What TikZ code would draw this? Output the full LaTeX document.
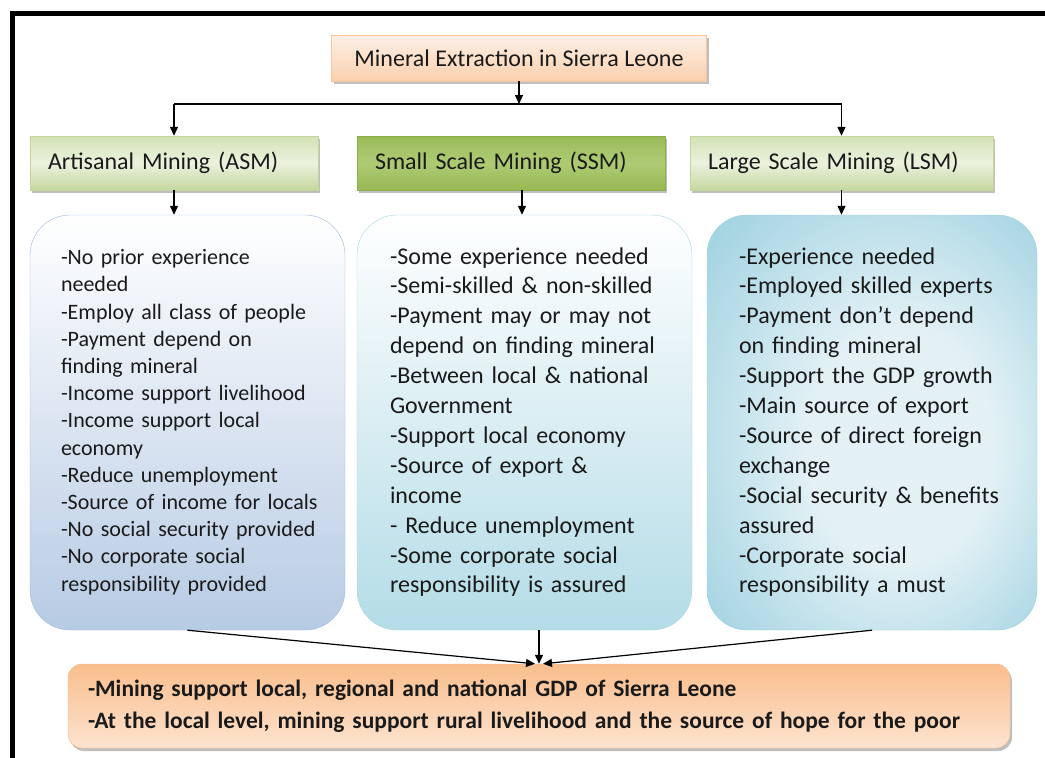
\documentclass[tikz,border=0pt]{standalone}
\usepackage{fontspec}
\setmainfont{Carlito}
\usetikzlibrary{arrows.meta,shadows,calc}
\definecolor{titletop}{HTML}{FDF0E6}
\definecolor{titlebot}{HTML}{FAD0AE}
\definecolor{titledraw}{HTML}{F8C49A}
\definecolor{lgtop}{HTML}{D3E2B6}
\definecolor{lgmid}{HTML}{EBF2DE}
\definecolor{lgbot}{HTML}{C4D79E}
\definecolor{lgdraw}{HTML}{C3D69B}
\definecolor{dgtop}{HTML}{9BBB59}
\definecolor{dgmid}{HTML}{AECB74}
\definecolor{dgbot}{HTML}{97B853}
\definecolor{dgdraw}{HTML}{8AAE48}
\definecolor{asmbot}{HTML}{B7CBE4}
\definecolor{asmdraw}{HTML}{9DB7D9}
\definecolor{ssmbot}{HTML}{B4DCE7}
\definecolor{ssmdraw}{HTML}{A5D6E3}
\definecolor{lsmin}{HTML}{E3F1F6}
\definecolor{lsmout}{HTML}{93CCDC}
\definecolor{lsmdraw}{HTML}{9BD0DF}
\definecolor{bottop}{HTML}{F9BE8C}
\definecolor{botbot}{HTML}{FDE3CF}
\definecolor{botdraw}{HTML}{F5B98A}
\definecolor{txt}{HTML}{1A1A1A}
\pgfdeclareradialshading{lsmshade}{\pgfpoint{6bp}{-4bp}}{color(0bp)=(lsmin); color(14bp)=(lsmin); color(34bp)=(lsmout!75!lsmin); color(46bp)=(lsmout); color(50bp)=(lsmout)}
\newcommand{\linelist}[1]{\begin{tabular}{@{}l@{}}#1\end{tabular}}
\begin{document}
\begin{tikzpicture}[x=1pt,y=-1pt,
  shad/.style={drop shadow={shadow xshift=2pt,shadow yshift=-3pt,fill=black,opacity=.25}},
  titlebox/.style={draw=titledraw, top color=titletop, bottom color=titlebot,
    minimum width=375pt, minimum height=46pt, font=\fontsize{24}{29}\selectfont, text=txt, shad},
  hdrbase/.style={minimum height=54pt, inner xsep=18pt, align=left,
    font=\fontsize{24}{29}\selectfont, text=txt, shad},
  hdrlight/.style={hdrbase, draw=lgdraw, top color=lgtop, bottom color=lgbot, middle color=lgmid},
  hdrdark/.style={hdrbase, draw=dgdraw, top color=dgtop, bottom color=dgbot, middle color=dgmid},
  bodybase/.style={rounded corners=40pt, minimum height=415pt, align=left, text=txt,
    font=\fontsize{24}{29.9}\selectfont},
  asmbody/.style={bodybase, draw=asmdraw, top color=white, bottom color=asmbot,
    minimum width=315pt, inner xsep=31pt, text width=253pt, font=\fontsize{22}{27.2}\selectfont},
  ssmbody/.style={bodybase, draw=ssmdraw, top color=white, bottom color=ssmbot,
    minimum width=335pt, inner xsep=33pt, text width=269pt},
  lsmbody/.style={bodybase, draw=lsmdraw, shading=lsmshade,
    minimum width=330pt, inner xsep=32pt, text width=266pt},
  botbox/.style={draw=botdraw, top color=bottop, bottom color=botbot, rounded corners=14pt,
    minimum width=942pt, minimum height=84pt, inner xsep=20pt, text width=902pt, align=left,
    font=\bfseries\fontsize{23.5}{32}\selectfont, text=txt, shad},
  arr/.style={-{Triangle[length=9pt,width=8pt]}, line width=1.2pt},
  conn/.style={line width=1.2pt}
]
\useasboundingbox (0,0) rectangle (1045,758);
% frame
\draw[line width=5pt] (12.5,760) -- (12.5,13) -- (1046,13);

\node[titlebox] (title) at (519,58) {Mineral Extraction in Sierra Leone};

\node[hdrlight, minimum width=288pt, text width=252pt] (asmh) at (174,163) {Artisanal Mining (ASM)};
\node[hdrdark, minimum width=308pt, text width=272pt] (ssmh) at (511,163) {Small Scale Mining (SSM)};
\node[hdrlight, minimum width=303pt, text width=267pt] (lsmh) at (841.5,163) {Large Scale Mining (LSM)};

\node[asmbody] (asmb) at (187.5,422.5) {\linelist{-No prior experience\\ needed\\ -Employ all class of people\\ -Payment depend on\\ finding mineral\\ -Income support livelihood\\ -Income support local\\ economy\\ -Reduce unemployment\\ -Source of income for locals\\ -No social security provided\\ -No corporate social\\ responsibility provided}};
\node[ssmbody] (ssmb) at (524.5,422.5) {\linelist{-Some experience needed\\ -Semi-skilled \& non-skilled\\ -Payment may or may not\\ depend on finding mineral\\ -Between local \& national\\ Government\\ -Support local economy\\ -Source of export \&\\ income\\ - Reduce unemployment\\ -Some corporate social\\ responsibility is assured}};
\node[lsmbody] (lsmb) at (872,422.5) {\linelist{-Experience needed\\ -Employed skilled experts\\ -Payment don’t depend\\ on finding mineral\\ -Support the GDP growth\\ -Main source of export\\ -Source of direct foreign\\ exchange\\ -Social security \& benefits\\ assured\\ -Corporate social\\ responsibility a must}};

\node[botbox] (bot) at (539,706) {\linelist{-Mining support local, regional and national GDP of Sierra Leone\\ -At the local level, mining support rural livelihood and the source of hope for the poor}};

% connectors
\coordinate (junc) at (519,104);
\draw[arr] (title.south) -- (junc);
\draw[conn] (asmh.north |- junc) -- (lsmh.north |- junc);
\draw[arr] (asmh.north |- junc) -- (asmh.north);
\draw[arr] (lsmh.north |- junc) -- (lsmh.north);

\draw[arr] (asmh.south) -- (asmh.south |- asmb.north);
\draw[arr] ([xshift=11pt]ssmh.south) -- ([xshift=11pt]ssmh.south |- ssmb.north);
\draw[arr] (lsmh.south) -- (lsmh.south |- lsmb.north);

\draw[arr] (asmb.south) -- ([xshift=-4pt]bot.north);
\draw[arr] ([xshift=14.5pt]ssmb.south) -- (bot.north);
\draw[arr] (lsmb.south) -- ([xshift=4pt]bot.north);
\end{tikzpicture}
\end{document}
